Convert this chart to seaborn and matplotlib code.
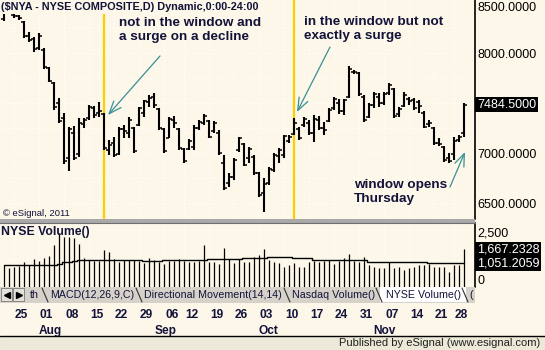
import numpy as np
import pandas as pd
import matplotlib
matplotlib.use("Agg")
import matplotlib.pyplot as plt
import seaborn as sns
from matplotlib.patches import Rectangle
from matplotlib.lines import Line2D

# ---------------- data ----------------
holidays = ["2011-09-05", "2011-11-24"]
dates = pd.bdate_range("2011-07-21", "2011-11-30")
dates = dates[~dates.isin(pd.to_datetime(holidays))]

opens = [8340, 8440, 8380, 8370, 8310, 8170, 8140, 8050, 8030, 7850,
         7700, 7500, 7350, 6950, 7200, 6990, 7290, 7350, 7450, 7400,
         7390, 7030, 7100, 6990, 7240, 7200, 7250, 7280, 7400, 7510,
         7560, 7440, 7240, 7150, 7330, 7240, 7040, 7040, 7060, 7250,
         7300, 7320, 7220, 7200, 6900, 6700, 6760, 7030, 7090, 6950,
         6960, 6800, 6600, 6700, 6830, 6970, 6980, 7120, 7190, 7240,
         7280, 7300, 7200, 7330, 7250, 7320, 7450, 7500, 7420, 7560,
         7810, 7800, 7560, 7360, 7480, 7560, 7500, 7600, 7640, 7390,
         7470, 7540, 7530, 7510, 7400, 7290, 7250, 7100, 7060, 6950,
         6990, 7130, 7200]
highs = [8460, 8490, 8390, 8380, 8320, 8210, 8160, 8200, 8050, 7860,
         7710, 7550, 7400, 7260, 7270, 7350, 7350, 7480, 7470, 7510,
         7400, 7130, 7160, 7260, 7280, 7360, 7260, 7460, 7530, 7580,
         7600, 7450, 7250, 7360, 7370, 7250, 7050, 7140, 7280, 7330,
         7390, 7330, 7320, 7230, 6980, 6800, 6950, 7160, 7100, 7060,
         6980, 6810, 6750, 6860, 7000, 7050, 7180, 7180, 7350, 7260,
         7360, 7330, 7380, 7370, 7310, 7450, 7560, 7540, 7540, 7870,
         7830, 7810, 7580, 7500, 7610, 7600, 7610, 7700, 7650, 7460,
         7610, 7560, 7550, 7530, 7420, 7330, 7260, 7150, 7070, 7000,
         7160, 7180, 7500]
lows = [8320, 8400, 8350, 8330, 8150, 8110, 8010, 8030, 7840, 7710,
        7430, 7300, 6890, 6820, 6930, 6960, 7250, 7330, 7350, 7360,
        7030, 6980, 6960, 6980, 7150, 7150, 7000, 7270, 7360, 7460,
        7450, 7230, 7000, 7150, 7250, 7030, 6900, 7030, 7030, 7230,
        7280, 7150, 7200, 6980, 6630, 6660, 6730, 7010, 6870, 6900,
        6780, 6560, 6410, 6680, 6810, 6900, 6950, 7100, 7180, 7130,
        7260, 7180, 7110, 7230, 7180, 7310, 7430, 7390, 7380, 7550,
        7790, 7570, 7310, 7350, 7450, 7460, 7480, 7580, 7350, 7360,
        7460, 7480, 7430, 7400, 7250, 7260, 7080, 7070, 6910, 6900,
        6930, 7110, 7160]
closes = [8430, 8410, 8370, 8350, 8170, 8130, 8040, 8170, 7860, 7720,
          7460, 7320, 6920, 7240, 6950, 7300, 7330, 7460, 7380, 7420,
          7050, 7080, 6980, 7240, 7220, 7330, 7020, 7450, 7520, 7550,
          7480, 7250, 7020, 7340, 7300, 7050, 6920, 7120, 7250, 7310,
          7370, 7160, 7300, 7000, 6650, 6760, 6930, 7150, 6880, 7040,
          6800, 6580, 6690, 6840, 6980, 7030, 7170, 7160, 7300, 7150,
          7340, 7200, 7340, 7250, 7230, 7430, 7540, 7420, 7530, 7840,
          7810, 7590, 7330, 7480, 7590, 7500, 7590, 7680, 7370, 7440,
          7580, 7520, 7450, 7470, 7260, 7300, 7100, 7090, 6930, 6920,
          7120, 7160, 7484.5]
volume = [979, 831, 875, 950, 1127, 979, 1245, 1157, 1275, 1379,
          1867, 2385, 2237, 2237, 2163, 1911, 1275, 1201, 1157, 1157,
          1645, 1541, 1245, 1127, 1201, 1201, 1201, 1157, 1053, 1275,
          1201, 1127, 1009, 1157, 1157, 1245, 1157, 1127, 1127, 1157,
          1867, 1097, 1097, 1009, 1719, 1245, 1053, 1245, 1127, 1097,
          1349, 1423, 1689, 1201, 1127, 1053, 905, 979, 1053, 905,
          905, 1097, 1157, 1097, 1157, 1201, 1009, 1157, 1275, 1453,
          1157, 1127, 1349, 979, 905, 861, 861, 1097, 831, 905,
          757, 831, 905, 979, 979, 1009, 905, 905, 905, 650,
          979, 979, 1667.2328]
vol_avg = [979, 979, 979, 979, 979, 979, 979, 979, 979, 979,
           979, 1023, 1097, 1097, 1157, 1201, 1201, 1201, 1201, 1201,
           1201, 1201, 1201, 1201, 1201, 1201, 1201, 1201, 1171, 1171,
           1171, 1171, 1216, 1216, 1216, 1216, 1216, 1216, 1216, 1216,
           1216, 1245, 1245, 1245, 1245, 1245, 1245, 1245, 1290, 1290,
           1290, 1290, 1290, 1319, 1319, 1319, 1319, 1319, 1275, 1275,
           1275, 1275, 1216, 1216, 1186, 1186, 1186, 1186, 1186, 1186,
           1186, 1186, 1186, 1112, 1112, 1112, 1112, 1112, 1112, 1112,
           1112, 1112, 1112, 1112, 1112, 1051.2059, 1051.2059, 1051.2059, 1051.2059, 1051.2059,
           1051.2059, 1051.2059, 1051.2059]
window_dates = ["2011-08-18", "2011-10-12"]
week_labels = ["2011-07-25", "2011-08-01", "2011-08-08", "2011-08-15", "2011-08-22",
               "2011-08-29", "2011-09-06", "2011-09-12", "2011-09-19", "2011-09-26",
               "2011-10-03", "2011-10-10", "2011-10-17", "2011-10-24", "2011-10-31",
               "2011-11-07", "2011-11-14", "2011-11-21", "2011-11-28"]
month_names = ["Aug", "Sep", "Oct", "Nov"]
price_ticks = [8000, 7000, 6500]
tab_names = ["th", "MACD(12,26,9,C)", "Directional Movement(14,14)",
             "Nasdaq Volume()", "NYSE Volume()", "("]

df = pd.DataFrame({"date": dates, "open": opens, "high": highs, "low": lows,
                   "close": closes, "volume": volume, "avg": vol_avg})
df["i"] = np.arange(len(df))

# ---------------- style ----------------
sns.set_style("white")
plt.rcParams["font.family"] = ["Liberation Sans", "DejaVu Sans"]
BG = "#FCF7E8"
INK = "#12123A"
TEAL = "#3A9094"
W, H = 545, 350

fig = plt.figure(figsize=(W / 100, H / 100), dpi=100)
fig.patch.set_facecolor(BG)

def rect(x0, y0, x1, y1):
    return [x0 / W, 1 - y1 / H, (x1 - x0) / W, (y1 - y0) / H]

def fpt(x, y):
    return (x / W, 1 - y / H)

XLIM = (-0.8, 94.2)

# ---------------- price panel ----------------
ax = fig.add_axes(rect(0, 0, 475, 219))
ax.set_facecolor(BG)
ax.set_xlim(*XLIM)
ax.set_ylim(6340, 8530)
for s in ["top", "left", "bottom"]:
    ax.spines[s].set_visible(False)
ax.spines["right"].set_color("black")
ax.spines["right"].set_linewidth(1.2)

week_idx = [int(df.index[df["date"] == pd.Timestamp(d)][0]) for d in week_labels]
for g in np.arange(6500, 8500, 250):
    ax.axhline(g, color="white", lw=0.9, ls=(0, (1, 2)), zorder=0)
for wi in week_idx:
    ax.axvline(wi, color="white", lw=0.9, ls=(0, (1, 2)), zorder=0)

for d in window_dates:
    wi = int(df.index[df["date"] == pd.Timestamp(d)][0])
    ax.axvline(wi, color="#FFCC00", lw=1.6, zorder=1)

ax.vlines(df["i"], df["low"], df["high"], color="black", lw=1.5, zorder=3)
ax.hlines(df["open"], df["i"] - 0.6, df["i"], color="black", lw=1.1, zorder=3)
ax.hlines(df["close"], df["i"], df["i"] + 0.6, color="black", lw=1.1, zorder=3)

ax.yaxis.tick_right()
ax.set_yticks(price_ticks)
ax.set_yticklabels([f"{v:.4f}" for v in price_ticks])
ax.tick_params(axis="y", length=0, pad=2, labelsize=9, labelcolor="black")
ax.set_xticks([])
ax.text(1.0 + 2 / 475, closes[-1], f"{closes[-1]:.4f}", transform=ax.get_yaxis_transform(),
        ha="left", va="center", color="white", fontsize=9,
        bbox=dict(facecolor="black", edgecolor="none", pad=1.2))
fig.text(*fpt(477, 8), "8500.0000", ha="left", va="center", fontsize=9, color="black")

fig.text(*fpt(1, 7), "($NYA - NYSE COMPOSITE,D) Dynamic,0:00-24:00", ha="left", va="center",
         fontsize=7.85, fontweight="bold", color=INK,
         bbox=dict(facecolor=BG, edgecolor="none", pad=1.5))
fig.text(*fpt(3, 213), "© eSignal, 2011", ha="left", va="center", fontsize=6.8, color=INK)

# annotations
fig.text(*fpt(119, 30), "not in the window and\na surge on a decline", ha="left", va="center",
         fontsize=9.7, fontweight="bold", color=INK, linespacing=1.25)
fig.text(*fpt(304, 29), "in the window but not\nexactly a surge", ha="left", va="center",
         fontsize=9.7, fontweight="bold", color=INK, linespacing=1.25)
fig.text(*fpt(354, 192), "window opens\nThursday", ha="left", va="center",
         fontsize=9.7, fontweight="bold", color=INK, linespacing=1.25)
arrow_kw = dict(arrowstyle="->,head_length=0.9,head_width=0.35", color=TEAL, lw=0.9,
                shrinkA=0, shrinkB=0)
for (x0, y0), (x1, y1) in [((160, 56), (108, 115)), ((330, 47), (297, 112)),
                           ((450, 187), (465, 152))]:
    ax.annotate("", xy=fpt(x1, y1), xycoords="figure fraction",
                xytext=fpt(x0, y0), textcoords="figure fraction", arrowprops=arrow_kw)

# separator between panels
fig.patches.append(Rectangle(fpt(0, 223), 475 / W, 4 / H, transform=fig.transFigure,
                             facecolor="#A9A9A9", edgecolor="none"))
fig.lines.append(Line2D([0, 475 / W], [1 - 222.5 / H] * 2, transform=fig.transFigure,
                        color="#6E6E6E", lw=0.8))

# ---------------- volume panel ----------------
axv = fig.add_axes(rect(0, 223, 475, 287))
axv.set_facecolor(BG)
axv.set_xlim(*XLIM)
axv.set_ylim(0, 2844)
for s in ["top", "left", "bottom"]:
    axv.spines[s].set_visible(False)
axv.spines["right"].set_color("black")
axv.spines["right"].set_linewidth(1.2)
for wi in week_idx:
    axv.axvline(wi, color="white", lw=0.9, ls=(0, (1, 2)), zorder=0)
axv.axhline(1250, color="white", lw=0.9, ls=(0, (1, 2)), zorder=0)
axv.vlines(df["i"], 0, df["volume"], color="black", lw=0.9, zorder=3)
sns.lineplot(data=df, x="i", y="avg", ax=axv, color="black", lw=1.0,
             drawstyle="steps-mid", zorder=4, legend=False)
axv.set_ylabel("")
axv.set_xlabel("")
axv.set_yticks([])
axv.text(0.002, 0.86, "NYSE Volume()", transform=axv.transAxes, ha="left", va="center",
         fontsize=8.8, fontweight="bold", color=INK)
for v in [volume[-1], vol_avg[-1]]:
    axv.text(1.0 + 2 / 475, v, f"{v:,.4f}", transform=axv.get_yaxis_transform(),
             ha="left", va="center", color="white", fontsize=9,
             bbox=dict(facecolor="black", edgecolor="none", pad=1.2))
fig.text(*fpt(477, 233), "2,500", ha="left", va="center", fontsize=9, color="black")
fig.text(*fpt(477, 281), "0", ha="left", va="center", fontsize=9, color="black")

# date labels on the volume axis
axv.set_xticks([wi + 0.2 for wi in week_idx])
axv.set_xticklabels([pd.Timestamp(d).strftime("%d") for d in week_labels])
for lbl in axv.get_xticklabels():
    lbl.set_ha("left")
axv.set_xticks([9.2, 32.4, 52.8, 76.0], minor=True)
axv.set_xticklabels(month_names, minor=True)
axv.tick_params(axis="x", which="major", length=0, pad=16, labelsize=8.6, labelcolor=INK)
axv.tick_params(axis="x", which="minor", length=0, pad=27.5, labelsize=8.6, labelcolor=INK)
for lbl in axv.get_xticklabels(minor=False) + axv.get_xticklabels(minor=True):
    lbl.set_fontweight("bold")

# ---------------- tab strip ----------------
fig.patches.append(Rectangle(fpt(0, 303), 475 / W, 16 / H, transform=fig.transFigure,
                             facecolor="#D6D2CA", edgecolor="none"))
fig.patches.append(Rectangle(fpt(380, 302), 86 / W, 15 / H, transform=fig.transFigure,
                             facecolor="white", edgecolor="none"))
for bx in [1, 13]:
    fig.patches.append(Rectangle(fpt(bx, 301), 11 / W, 13 / H, transform=fig.transFigure,
                                 facecolor="#E4E1DA", edgecolor="#7A7A7A", lw=0.6))
fig.lines.append(Line2D([fpt(6.5, 0)[0]], [fpt(0, 295)[1]], transform=fig.transFigure,
                        marker="<", color="black", ms=4.5, ls=""))
fig.lines.append(Line2D([fpt(18.5, 0)[0]], [fpt(0, 295)[1]], transform=fig.transFigure,
                        marker=">", color="black", ms=4.5, ls=""))
for sx in [42, 136, 284, 376, 462]:
    fig.lines.append(Line2D([sx / W, (sx + 6) / W], [1 - 288 / H, 1 - 302 / H],
                            transform=fig.transFigure, color="#303030", lw=0.8))
for name, tx in zip(tab_names, [30, 50, 144, 292, 386, 469]):
    fig.text(*fpt(tx, 295.5), name, ha="left", va="center", fontsize=7.7, color=INK)

# ---------------- footer ----------------
fig.patches.append(Rectangle((0, 0), 1, 14 / H, transform=fig.transFigure,
                             facecolor="#ECE9D8", edgecolor="none"))
fig.lines.append(Line2D([0, 1], [14 / H, 14 / H], transform=fig.transFigure,
                        color="black", lw=1))
fig.text(*fpt(540, 343), "Published by eSignal (www.esignal.com)", ha="right", va="center",
         fontsize=8, color="#202020")

fig.savefig("out.png", dpi=100, facecolor=fig.get_facecolor())
